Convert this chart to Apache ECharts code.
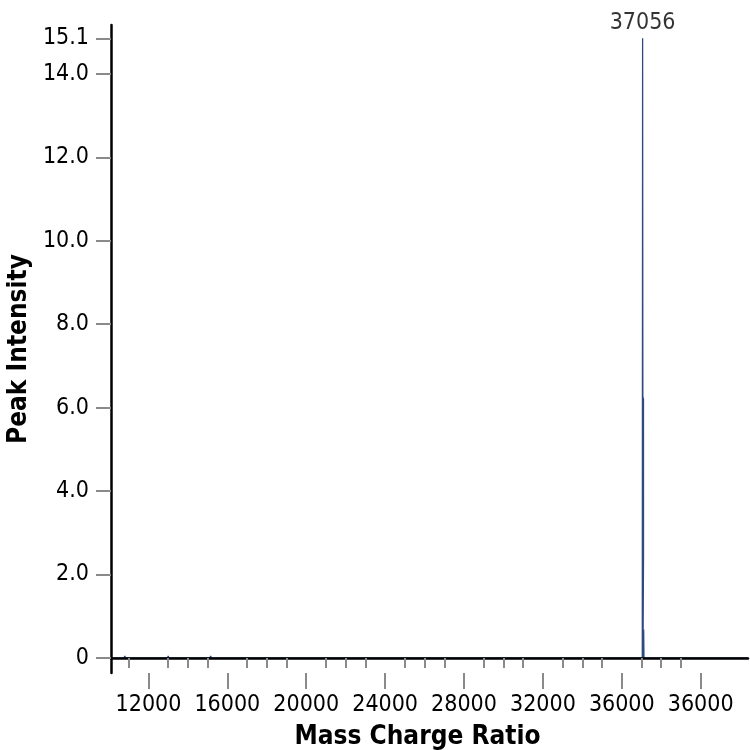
<!DOCTYPE html>
<html>
<head>
<meta charset="utf-8">
<script src="https://cdn.jsdelivr.net/npm/echarts@6/dist/echarts.min.js"></script>
<style>
  html, body { margin: 0; padding: 0; background: #fff; }
  #chart { width: 750px; height: 750px; }
</style>
</head>
<body>
<div id="chart"></div>
<script>
// spectrum trace (mass/charge vs intensity)
const massValues = [10100, 10760, 10800, 10840, 12960, 13000, 13040, 15110, 15150, 15190,
  37040, 37056, 37068, 37100, 37102, 37075, 37095, 37110, 37125, 37200, 42400];
const intensityValues = [0, 0, 0.05, 0, 0, 0.05, 0, 0, 0.05, 0,
  0, 14.85, 6.26, 6.2, 2.45, 0, 0, 0.68, 0, 0, 0];
const peakMass = 37056;
const peakIntensity = 14.85;

// axis ticks and their printed labels
const xMinorTicks = [11000, 13000, 14000, 15000, 17000, 18000, 19000, 21000, 22000, 23000,
  25000, 26000, 27000, 29000, 30000, 31000, 33000, 34000, 35000, 37000, 38000, 39000];
const xMajorTicks = [12000, 16000, 20000, 24000, 28000, 32000, 36000, 40000];
const xTickLabels = ["12000", "16000", "20000", "24000", "28000", "32000", "36000", "36000"];
const yTicks = [0, 2, 4, 6, 8, 10, 12, 14, 14.85];
const yTickLabels = ["0", "2.0", "4.0", "6.0", "8.0", "10.0", "12.0", "14.0", "15.1"];

const FONT = "'Liberation Sans Narrow', 'DejaVu Sans Condensed', sans-serif";
const X_MIN = 10100, X_MAX = 42400;

const chart = echarts.init(document.getElementById("chart"));

chart.setOption({
  animation: false,
  grid: { left: 111, right: 2, top: 25, bottom: 77, outerBoundsMode: "none", containLabel: false },
  xAxis: [
    {
      // short ticks every 1000
      type: "value", min: X_MIN, max: X_MAX,
      axisLine: { show: true, onZero: true, lineStyle: { color: "#000", width: 2.5 } },
      axisTick: { show: true, length: 10, customValues: xMinorTicks,
        lineStyle: { color: "#8a8a8a", width: 2 } },
      axisLabel: { show: false },
      splitLine: { show: false },
      z: 5
    },
    {
      // long ticks + labels every 4000
      type: "value", min: X_MIN, max: X_MAX, position: "bottom",
      name: "Mass Charge Ratio", nameLocation: "middle", nameGap: 51,
      nameTextStyle: { fontFamily: FONT, fontSize: 26, fontWeight: "bold", color: "#000",
        padding: [0, 24, 0, 0] },
      axisLine: { show: false, onZero: true },
      axisTick: { show: true, length: 16, customValues: xMajorTicks,
        lineStyle: { color: "#8a8a8a", width: 2 } },
      axisLabel: {
        show: true, customValues: xMajorTicks, margin: 21,
        fontFamily: FONT, fontSize: 23, color: "#000",
        formatter: v => xTickLabels[xMajorTicks.indexOf(v)]
      },
      splitLine: { show: false }
    }
  ],
  yAxis: {
    type: "value", min: -0.36, max: 15.17,
    name: "Peak Intensity", nameLocation: "middle", nameGap: 76,
    nameTextStyle: { fontFamily: FONT, fontSize: 26, fontWeight: "bold", color: "#000" },
    axisLine: { show: true, onZero: false, lineStyle: { color: "#000", width: 2.5 } },
    axisTick: { show: true, length: 15, customValues: yTicks,
      lineStyle: { color: "#8a8a8a", width: 2 } },
    axisLabel: {
      show: true, customValues: yTicks, margin: 22,
      fontFamily: FONT, fontSize: 23, color: "#000",
      formatter: v => yTickLabels[yTicks.indexOf(v)]
    },
    splitLine: { show: false },
    z: 5
  },
  series: [
    {
      type: "line",
      xAxisIndex: 0,
      data: massValues.map((m, i) => [m, intensityValues[i]]),
      showSymbol: false,
      symbol: "none",
      lineStyle: { color: "#2e4a7e", width: 1.3 },
      z: 2
    },
    {
      // peak annotation
      type: "scatter",
      xAxisIndex: 0,
      data: [[peakMass, peakIntensity]],
      symbolSize: 0,
      silent: true,
      label: { show: true, position: "top", distance: 4, formatter: String(peakMass),
        fontFamily: FONT, fontSize: 23, color: "#000" },
      z: 3
    }
  ]
});
</script>
</body>
</html>
